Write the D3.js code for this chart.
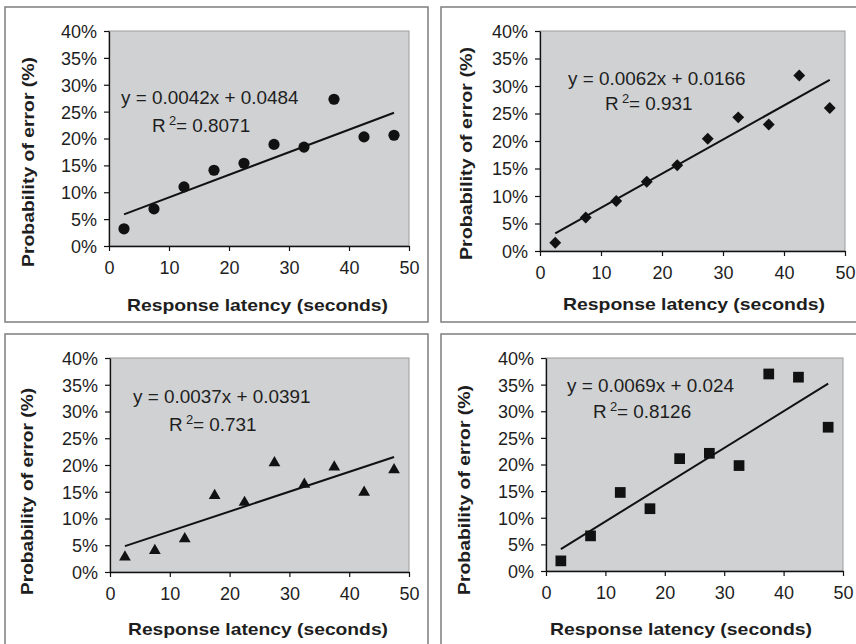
<!DOCTYPE html>
<html>
<head>
<meta charset="utf-8">
<script src="https://cdn.jsdelivr.net/npm/d3@7"></script>
<style>
  html, body { margin: 0; padding: 0; background: #ffffff; }
  svg { display: block; }
  text { font-family: "Liberation Sans", Arial, Helvetica, sans-serif; fill: #1e1e1e; }
</style>
</head>
<body>
<svg id="chart" width="856" height="644"></svg>
<script>
// ---------------- DATA ----------------
const latency = [2.5, 7.5, 12.5, 17.5, 22.5, 27.5, 32.5, 37.5, 42.5, 47.5];   // seconds
const errorCircle   = [3.2, 6.9, 11.0, 14.1, 15.4, 18.9, 18.4, 27.3, 20.3, 20.6]; // %
const errorDiamond  = [1.5, 6.1, 9.1, 12.6, 15.6, 20.4, 24.3, 23.0, 31.9, 26.0];
const errorTriangle = [2.8, 4.0, 6.2, 14.3, 13.0, 20.4, 16.4, 19.6, 14.9, 19.1];
const errorSquare   = [1.9, 6.6, 14.75, 11.7, 21.1, 22.1, 19.8, 37.0, 36.4, 27.0];
const fitSlopes     = [0.0042, 0.0062, 0.0037, 0.0069];
const fitIntercepts = [0.0484, 0.0166, 0.0391, 0.024];
const fitSlopeLabels     = ["0.0042", "0.0062", "0.0037", "0.0069"];
const fitInterceptLabels = ["0.0484", "0.0166", "0.0391", "0.024"];
const fitR2Labels        = ["0.8071", "0.931", "0.731", "0.8126"];
const xTicks = [0, 10, 20, 30, 40, 50];
const yTicks = [0, 5, 10, 15, 20, 25, 30, 35, 40];
const xTitle = "Response latency (seconds)";
const yTitle = "Probability of error (%)";

// ---------------- LAYOUT ----------------
const panels = [
  { series: errorCircle, marker: "circle",
    box: {x: 5, y: 7, w: 423, h: 315}, plot: {l: 109, r: 409, t: 31, b: 246},
    eq: {x: 121, y: 104}, r2: {x: 152, y: 132},
    yl: {x: 33.5, y: 162, len: 210}, xl: {x: 257.5, y: 311, len: 261} },
  { series: errorDiamond, marker: "diamond",
    box: {x: 441, y: 7, w: 430, h: 315}, plot: {l: 540, r: 845, t: 31, b: 251},
    eq: {x: 568, y: 85}, r2: {x: 605, y: 110},
    yl: {x: 472, y: 153.5, len: 213}, xl: {x: 694, y: 310, len: 262} },
  { series: errorTriangle, marker: "triangle",
    box: {x: 5, y: 334, w: 423, h: 330}, plot: {l: 110, r: 409, t: 358, b: 572},
    eq: {x: 133, y: 403}, r2: {x: 169, y: 431},
    yl: {x: 33, y: 491.5, len: 207}, xl: {x: 258, y: 635, len: 260} },
  { series: errorSquare, marker: "square",
    box: {x: 441, y: 334, w: 430, h: 330}, plot: {l: 546, r: 843, t: 358, b: 571},
    eq: {x: 567, y: 392}, r2: {x: 593, y: 418},
    yl: {x: 470, y: 490, len: 210}, xl: {x: 681, y: 635, len: 262} }
];

const diamondType = { draw(ctx, size) { const r = Math.sqrt(size) * 0.62625;
  ctx.moveTo(0, -r); ctx.lineTo(r, 0); ctx.lineTo(0, r); ctx.lineTo(-r, 0); ctx.closePath(); } };
const markerDefs = {
  circle:   { type: d3.symbolCircle,   size: 98 },
  diamond:  { type: diamondType,       size: 90 },
  triangle: { type: d3.symbolTriangle, size: 60 },
  square:   { type: d3.symbolSquare,   size: 115 }
};

const svg = d3.select("#chart");
const HS = 1.08; // horizontal stretch of the equation labels

panels.forEach((p, i) => {
  const g = svg.append("g");

  // outer panel frame
  g.append("rect").attr("x", p.box.x).attr("y", p.box.y)
    .attr("width", p.box.w).attr("height", p.box.h)
    .attr("fill", "none").attr("stroke", "#858585").attr("stroke-width", 1.6);

  const x = d3.scaleLinear().domain([0, 50]).range([p.plot.l, p.plot.r]);
  const y = d3.scaleLinear().domain([0, 40]).range([p.plot.b, p.plot.t]);

  // plot area
  g.append("rect").attr("x", p.plot.l).attr("y", p.plot.t)
    .attr("width", p.plot.r - p.plot.l).attr("height", p.plot.b - p.plot.t)
    .attr("fill", "#cfd1d3").attr("stroke", "#9c9c9c").attr("stroke-width", 1);

  // axes
  const ax = g.append("g").attr("transform", `translate(0,${p.plot.b})`)
    .call(d3.axisBottom(x).tickValues(xTicks).tickSize(5).tickSizeOuter(0).tickPadding(10));
  const ay = g.append("g").attr("transform", `translate(${p.plot.l},0)`)
    .call(d3.axisLeft(y).tickValues(yTicks).tickSize(5).tickSizeOuter(0).tickPadding(7)
      .tickFormat(d => d + "%"));
  [ax, ay].forEach(a => {
    a.select(".domain").attr("stroke", "#111").attr("stroke-width", 1.3);
    a.selectAll(".tick line").attr("stroke", "#111").attr("stroke-width", 1.2);
    a.selectAll(".tick text").attr("font-size", 18).attr("fill", "#1e1e1e")
      .style("font-family", '"Liberation Sans", Arial, sans-serif');
  });
  ay.selectAll(".tick text").attr("dy", "0.36em");

  // trend line
  const xe = d3.extent(latency);
  const lineGen = d3.line().x(d => x(d)).y(d => y((fitSlopes[i] * d + fitIntercepts[i]) * 100));
  g.append("path").datum(xe).attr("d", lineGen)
    .attr("fill", "none").attr("stroke", "#111").attr("stroke-width", 2);

  // markers
  const md = markerDefs[p.marker];
  const sym = d3.symbol().type(md.type).size(md.size);
  g.selectAll("path.pt").data(p.series).enter().append("path").attr("class", "pt")
    .attr("transform", (d, k) => `translate(${x(latency[k])},${y(d)})`)
    .attr("d", sym).attr("fill", "#111");

  // equation text
  const eg = g.append("g").attr("transform", `translate(${p.eq.x},${p.eq.y}) scale(${HS},1)`);
  eg.append("text").attr("font-size", 17.5)
    .text(`y = ${fitSlopeLabels[i]}x + ${fitInterceptLabels[i]}`);
  const rg = g.append("g").attr("transform", `translate(${p.r2.x},${p.r2.y}) scale(${HS},1)`);
  const rt = rg.append("text").attr("font-size", 17.5);
  rt.append("tspan").text("R");
  rt.append("tspan").attr("dx", 3).attr("dy", -7).attr("font-size", 12).text("2");
  rt.append("tspan").attr("dy", 7).text("= " + fitR2Labels[i]);

  // axis titles
  g.append("text").attr("x", p.xl.x).attr("y", p.xl.y).attr("text-anchor", "middle")
    .attr("font-size", 17).attr("font-weight", "bold")
    .attr("textLength", p.xl.len).attr("lengthAdjust", "spacingAndGlyphs")
    .text(xTitle);
  g.append("text").attr("transform", `translate(${p.yl.x},${p.yl.y}) rotate(-90)`)
    .attr("text-anchor", "middle").attr("font-size", 17).attr("font-weight", "bold")
    .attr("textLength", p.yl.len).attr("lengthAdjust", "spacingAndGlyphs")
    .text(yTitle);
});
</script>
</body>
</html>
